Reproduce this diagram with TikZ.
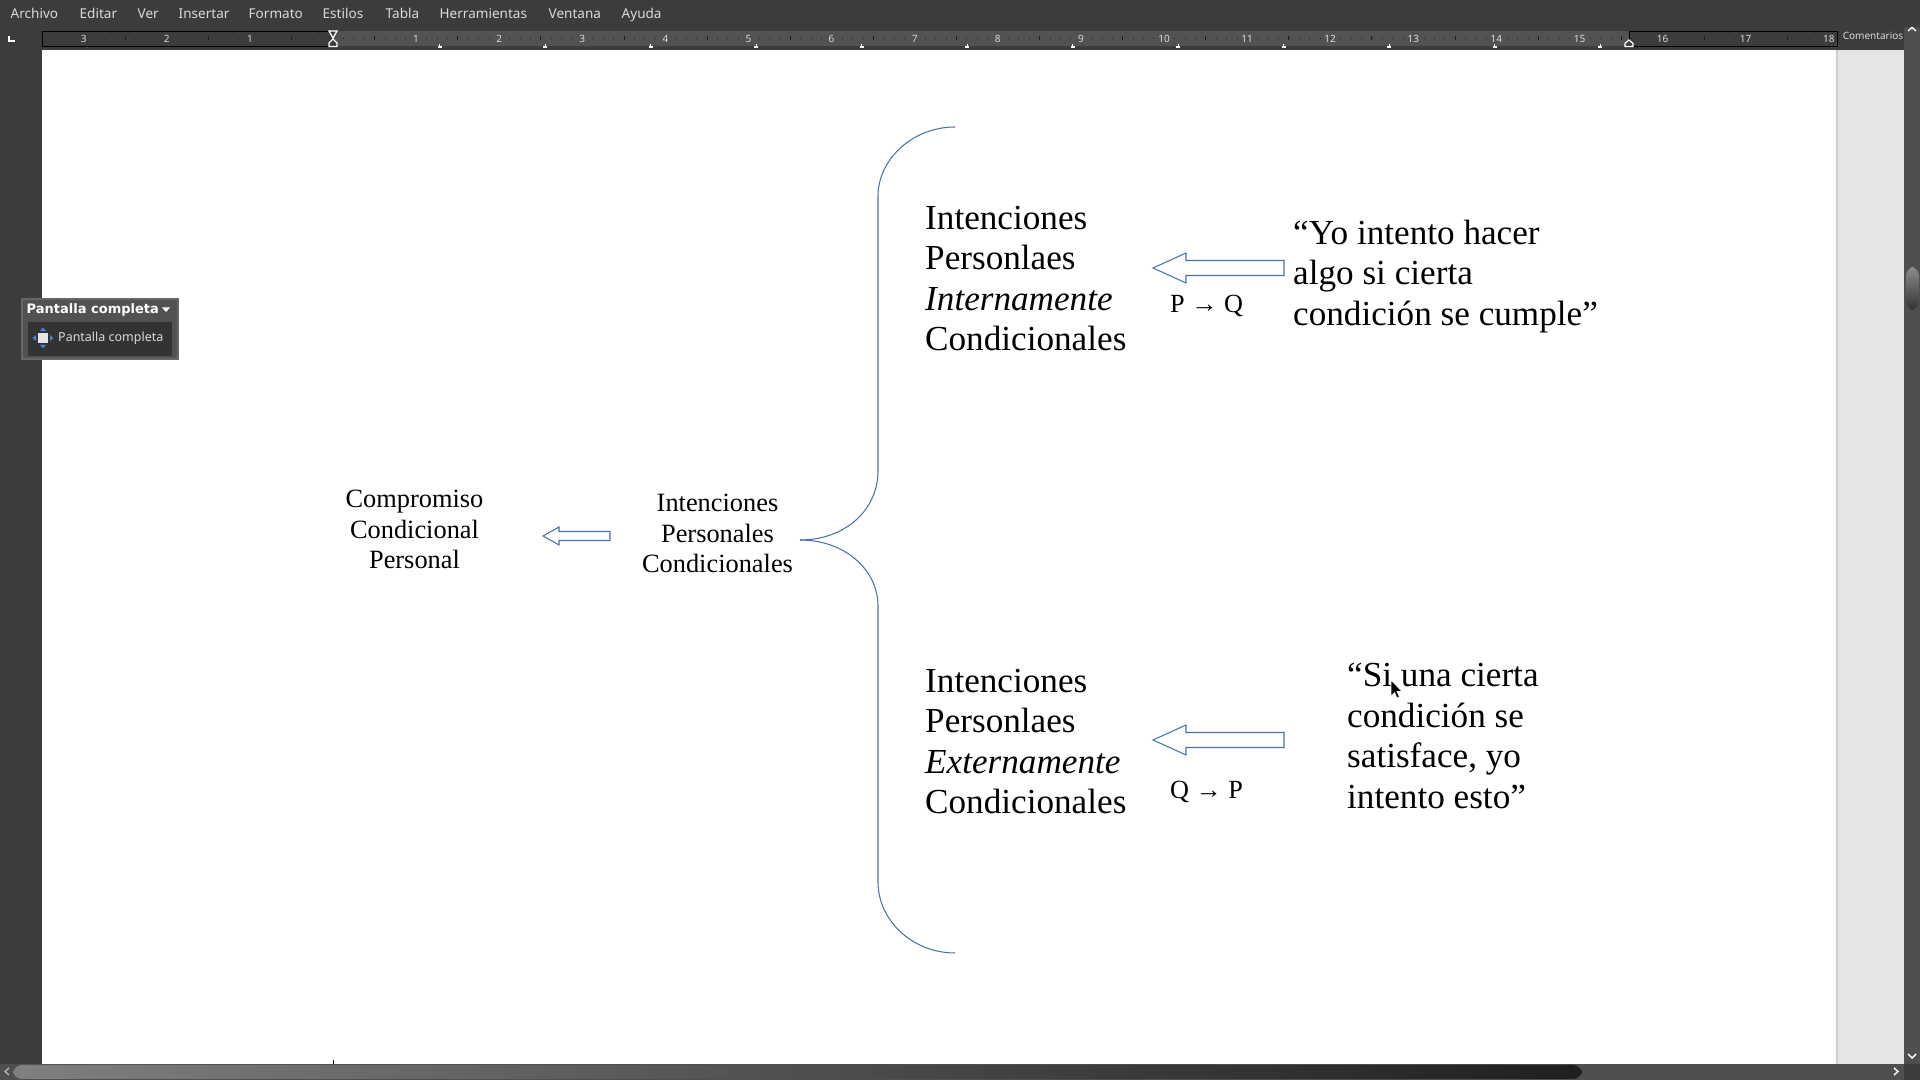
\documentclass[tikz,border=0pt]{standalone}
\usepackage{fontspec}
\setmainfont{Liberation Serif}
\newfontfamily\uifont{Noto Sans}
\newfontfamily\uibold{DejaVu Sans}
\usepackage{xcolor}
\definecolor{uidark}{HTML}{3C3C3E}
\definecolor{uimid}{HTML}{525252}
\definecolor{uibar}{HTML}{4F4F4F}
\definecolor{uitext}{HTML}{DADADA}
\definecolor{uitick}{HTML}{1E1E1E}
\definecolor{sidegray}{HTML}{E5E5E5}
\definecolor{shapeblue}{HTML}{4A72AC}
\definecolor{iconblue}{HTML}{4A82CC}

\begin{document}
\begin{tikzpicture}[
  x=0.01cm, y=-0.01cm,
  menu/.style={font=\uifont\fontsize{3.85}{4.6}\selectfont, text=uitext, inner sep=0pt, anchor=base west},
  rulernum/.style={font=\uifont\fontsize{2.85}{3.4}\selectfont, text=uitext, inner sep=0pt},
  big/.style={font=\fontsize{10}{11.55}\selectfont, align=left, anchor=west, inner sep=0pt},
  small/.style={font=\fontsize{7.5}{8.75}\selectfont, align=center, inner sep=0pt},
  logic/.style={font=\fontsize{7.45}{8.75}\selectfont, anchor=west, inner sep=0pt},
  shapeline/.style={draw=shapeblue, line width=0.3pt},
]
\useasboundingbox (0,0) rectangle (1920,1080);

% One block arrow pointing left: tip x, mid y, head x, right x, half shaft, half head
\newcommand{\leftblock}[6]{%
  \draw[shapeline, fill=white, line join=miter]
    (#1,#2) -- (#3,#2-#6) -- (#3,#2-#5) -- (#4,#2-#5)
    -- (#4,#2+#5) -- (#3,#2+#5) -- (#3,#2+#6) -- cycle;
}

% --- Window frame, page and side panel ---
\fill[uidark] (0,0) rectangle (1920,1080);
\fill[white] (42,50) rectangle (1837,1064);
\fill[sidegray] (1837,50) rectangle (1905,1064);
\fill[black!20] (1836,50) rectangle (1838,1064);
\fill[black] (332.5,1060) rectangle (334,1064);

% --- Menu bar ---
\node[menu] (mArchivo) at (10,19) {Archivo};
\node[menu] (mEditar) at (79,19) {Editar};
\node[menu] (mVer) at (137,19) {Ver};
\node[menu] (mInsertar) at (178,19) {Insertar};
\node[menu] (mFormato) at (248,19) {Formato};
\node[menu] (mEstilos) at (322,19) {Estilos};
\node[menu] (mTabla) at (385,19) {Tabla};
\node[menu] (mHerramientas) at (439,19) {Herramientas};
\node[menu] (mVentana) at (548,19) {Ventana};
\node[menu] (mAyuda) at (621,19) {Ayuda};

% --- Ruler ---
\fill[uimid] (333,31) rectangle (1629,46);
\draw[black, line width=0.2pt] (42,31) rectangle (333,46);
\draw[black, line width=0.2pt] (1629,31) rectangle (1837,46);
\foreach \k in {-23,...,180} {
  \fill[uitick] ({333+10.39*\k-0.35},38) rectangle ({333+10.39*\k+0.35},39.2);
}
\foreach \k in {-3,...,18} {
  \fill[uitick] ({333+83.1*\k+41.55-0.35},36.5) rectangle ({333+83.1*\k+41.55+0.35},40.5);
}
\foreach \i in {1,2,3} {
  \node[rulernum] (rulerL\i) at ({333-83.1*\i},38.5) {\i};
}
\foreach \i in {1,...,18} {
  \node[rulernum] (rulerR\i) at ({333+83.1*\i},38.5) {\i};
}
\foreach \k in {0,...,11} {
  \draw[white, line width=0.3pt] ({439.6+105.5*\k},44) -- ({439.6+105.5*\k},47)
    ({439.6+105.5*\k-2},47) -- ({439.6+105.5*\k+2},47);
}
\draw[white, fill=uidark, line width=0.35pt] (329,31) -- (337,31) -- (333,38) -- cycle;
\draw[white, fill=uidark, line width=0.35pt] (333,39) -- (337,43) -- (337,46.5) -- (329,46.5) -- (329,43) -- cycle;
\draw[white, fill=uidark, line width=0.35pt] (1629,40) -- (1633,43.5) -- (1633,46.5) -- (1625,46.5) -- (1625,43.5) -- cycle;
\draw[white, line width=0.5pt] (9,36) -- (9,41) -- (15,41);
\node[rulernum] (comentarios) at (1873,36) {Comentarios};

% --- Scroll bars ---
\fill[uibar] (1904,27) rectangle (1920,1064);
\fill[uibar] (0,1064) rectangle (1904,1080);
\shade[top color=black!45, bottom color=black!80, rounded corners=2.5pt] (1906,267) rectangle (1919,310);
\shade[left color=black!50, right color=black!88, rounded corners=2.5pt] (13,1065) rectangle (1582,1079);
\draw[white, line width=0.4pt] (1908,31) -- (1912,27.5) -- (1916,31);
\draw[white, line width=0.4pt] (1908,1054) -- (1912,1058) -- (1916,1054);
\draw[black!30, line width=0.4pt] (9,1068) -- (5,1071.5) -- (9,1075);
\draw[white, line width=0.4pt] (1894,1068) -- (1898,1071.5) -- (1894,1075);

% --- Floating toolbar ---
\fill[uimid] (22,299) rectangle (178,359);
\draw[black!60, line width=0.3pt] (22,299) rectangle (178,359);
\fill[black!80] (28,322) rectangle (172,356);
\node[font=\uibold\bfseries\fontsize{3.7}{4}\selectfont, text=white, inner sep=0pt, anchor=west] (barTitle) at (26,310) {Pantalla completa};
\fill[white] (162,307.5) -- (170,307.5) -- (166,312) -- cycle;
\node[menu, anchor=west, font=\uifont\fontsize{3.55}{4}\selectfont] (barItem) at (57.5,338) {Pantalla completa};
\fill[black!10] (38,333) rectangle (48,343);
\fill[iconblue] (43,327.5) -- (46,331) -- (40,331) -- cycle;
\fill[iconblue] (43,348.5) -- (46,345) -- (40,345) -- cycle;
\fill[iconblue] (32.5,338) -- (36,335) -- (36,341) -- cycle;
\fill[iconblue] (53.5,338) -- (50,335) -- (50,341) -- cycle;

% --- Brace ---
\draw[shapeline] (955,127) .. controls (912,127) and (878,160) .. (878,196) -- (878,471)
  .. controls (878,510) and (845,540) .. (800,540);
\draw[shapeline] (800,540) .. controls (845,540) and (878,570) .. (878,606) -- (878,882)
  .. controls (878,920) and (912,953) .. (955,953);

% --- Block arrows ---
\leftblock{543}{536}{559}{610}{4.5}{9}
\leftblock{1153}{268}{1186}{1284}{7.5}{15}
\leftblock{1153}{740}{1186}{1284}{7.5}{15}

% --- Texts ---
\node[small] (compromiso) at (414.5,529.5) {Compromiso\\Condicional\\Personal};
\node[small] (intenciones) at (717.5,533.5) {Intenciones\\Personales\\Condicionales};

\node[big] (internas) at (924.5,278.5) {Intenciones\\Personlaes\\\textit{Internamente}\\Condicionales};
\node[big] (externas) at (924.5,741.5) {Intenciones\\Personlaes\\\textit{Externamente}\\Condicionales};
\node[big] (fraseA) at (1292.5,276.5) {“Yo intento hacer\\algo si cierta\\condición se cumple”};
\node[big] (fraseB) at (1346.5,736) {“Si una cierta\\condición se\\satisface, yo\\intento esto”};

\node[logic] (pq) at (1169.5,306) {P → Q};
\node[logic] (qp) at (1169.5,792) {Q → P};

% --- Mouse pointer ---
\draw[white, fill=black, line width=0.2pt, line join=round]
  (1391,680) -- (1391,696) -- (1394.5,692.5) -- (1397,698) -- (1399.5,697) -- (1397,691.5) -- (1402,691.5) -- cycle;

\end{tikzpicture}
\end{document}
